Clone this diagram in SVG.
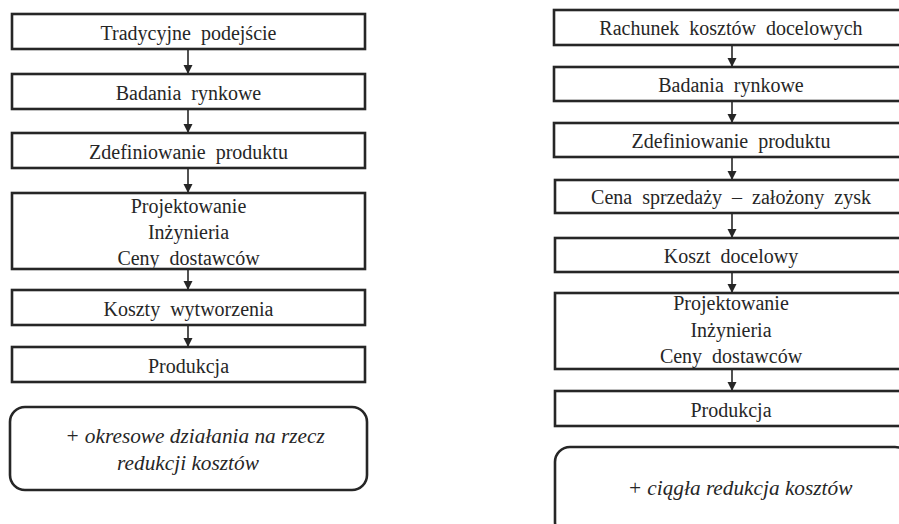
<svg xmlns="http://www.w3.org/2000/svg" width="899" height="524" viewBox="0 0 899 524">
<style>
.box{fill:#fff;stroke:#262626;stroke-width:2.6}
.t{font-family:'Liberation Serif','Times New Roman',serif;font-size:20px;fill:#262626;text-anchor:middle;word-spacing:5px}
.i{font-family:'Liberation Serif','Times New Roman',serif;font-size:21.3px;font-style:italic;fill:#262626;text-anchor:middle}
.c{stroke:#262626;stroke-width:1.6;fill:none;marker-end:url(#ah)}
</style>
<defs>
<marker id="ah" markerUnits="userSpaceOnUse" markerWidth="10" markerHeight="10" refX="9" refY="5" orient="auto">
<path d="M0,0.5 L9,5 L0,9.5 Z" fill="#262626"/>
</marker>
</defs>
<rect width="899" height="524" fill="#fff"/>
<g id="connectors">
<line class="c" x1="188" y1="49" x2="188" y2="74"/>
<line class="c" x1="188" y1="109" x2="188" y2="133"/>
<line class="c" x1="188" y1="168" x2="188" y2="193"/>
<line class="c" x1="188" y1="269" x2="188" y2="290"/>
<line class="c" x1="188" y1="325" x2="188" y2="347"/>
<line class="c" x1="732" y1="45" x2="732" y2="67"/>
<line class="c" x1="732" y1="101" x2="732" y2="123"/>
<line class="c" x1="732" y1="157" x2="732" y2="180"/>
<line class="c" x1="732" y1="213" x2="732" y2="238"/>
<line class="c" x1="732" y1="272" x2="732" y2="293"/>
<line class="c" x1="732" y1="369" x2="732" y2="391"/>
</g>
<g id="l1"><rect class="box" x="12" y="14" width="353" height="35"/><text class="t" x="188.5" y="40">Tradycyjne podejście</text></g>
<g id="l2"><rect class="box" x="12" y="74" width="353" height="35"/><text class="t" x="188.5" y="100">Badania rynkowe</text></g>
<g id="l3"><rect class="box" x="12" y="133" width="353" height="35"/><text class="t" x="188.5" y="159">Zdefiniowanie produktu</text></g>
<g id="l4"><rect class="box" x="12" y="193" width="353" height="76"/><text class="t" x="188.5" y="213">Projektowanie</text><text class="t" x="188.5" y="239">Inżynieria</text><text class="t" x="188.5" y="265">Ceny dostawców</text></g>
<g id="l5"><rect class="box" x="12" y="290" width="353" height="35"/><text class="t" x="188.5" y="316">Koszty wytworzenia</text></g>
<g id="l6"><rect class="box" x="12" y="347" width="353" height="35"/><text class="t" x="188.5" y="373">Produkcja</text></g>
<g id="l7"><rect class="box" x="10" y="407" width="357" height="83" rx="15" ry="15"/><text class="i" x="195" y="443">+ okresowe działania na rzecz</text><text class="i" x="188" y="470">redukcji kosztów</text></g>
<g id="r1"><rect class="box" x="554" y="10" width="356" height="35"/><text class="t" x="731" y="35">Rachunek kosztów docelowych</text></g>
<g id="r2"><rect class="box" x="554" y="67" width="356" height="34"/><text class="t" x="731" y="92">Badania rynkowe</text></g>
<g id="r3"><rect class="box" x="554" y="123" width="356" height="34"/><text class="t" x="731" y="148">Zdefiniowanie produktu</text></g>
<g id="r4"><rect class="box" x="555" y="180" width="355" height="33"/><text class="t" x="731" y="204">Cena sprzedaży – założony zysk</text></g>
<g id="r5"><rect class="box" x="555" y="238" width="355" height="34"/><text class="t" x="731" y="263">Koszt docelowy</text></g>
<g id="r6"><rect class="box" x="555" y="293" width="355" height="76"/><text class="t" x="731" y="310">Projektowanie</text><text class="t" x="731" y="337">Inżynieria</text><text class="t" x="731" y="363">Ceny dostawców</text></g>
<g id="r7"><rect class="box" x="555" y="391" width="355" height="35"/><text class="t" x="731" y="417">Produkcja</text></g>
<g id="r8"><rect class="box" x="555" y="447" width="355" height="90" rx="15" ry="15"/><text class="i" x="740" y="495">+ ciągła redukcja kosztów</text></g>
</svg>
